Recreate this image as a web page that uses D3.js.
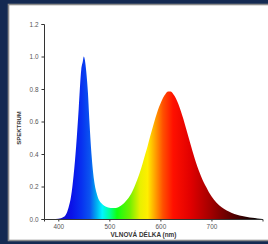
<!DOCTYPE html>
<html>
<head>
<meta charset="utf-8">
<script src="https://cdn.jsdelivr.net/npm/d3@7"></script>
<style>
  body { margin: 0; background: #142a52; }
  svg { display: block; }
</style>
</head>
<body>
<svg width="268" height="244"></svg>
<script>
// spectrum (nm -> relative intensity)
const wavelengths = [372, 390, 400, 405, 410, 415, 420, 425, 430, 435, 440, 445, 448, 450, 452, 455, 458, 461, 465, 470, 475, 480, 485, 490, 495, 500, 505, 510, 515, 520, 525, 530, 535, 540, 545, 550, 555, 560, 565, 570, 575, 580, 585, 590, 595, 600, 605, 610, 615, 620, 625, 630, 635, 640, 645, 650, 655, 660, 665, 670, 675, 680, 685, 690, 695, 700, 705, 710, 720, 730, 740, 750, 760, 770, 780, 790, 800];
const intensity   = [0, 0, 0.002, 0.005, 0.012, 0.028, 0.07, 0.14, 0.27, 0.45, 0.68, 0.92, 0.97, 1.0, 0.98, 0.9, 0.78, 0.6, 0.4, 0.24, 0.16, 0.115, 0.095, 0.082, 0.074, 0.069, 0.067, 0.067, 0.07, 0.077, 0.088, 0.102, 0.12, 0.142, 0.17, 0.205, 0.245, 0.29, 0.34, 0.395, 0.45, 0.51, 0.565, 0.62, 0.67, 0.71, 0.745, 0.77, 0.785, 0.785, 0.77, 0.745, 0.71, 0.665, 0.615, 0.56, 0.505, 0.45, 0.395, 0.345, 0.3, 0.26, 0.225, 0.195, 0.165, 0.14, 0.118, 0.1, 0.072, 0.052, 0.037, 0.026, 0.018, 0.012, 0.007, 0.003, 0];

// colour of the fill along the wavelength axis
const colorNm   = [400, 425, 445, 462, 474, 486, 500, 515, 540, 560, 575, 590, 605, 625, 660, 700, 740, 770, 795];
const colorHex  = ['#1a10c0', '#0a10e8', '#0830f0', '#0a55f0', '#00a8f0', '#00f5ff', '#00ffa0', '#10ff10', '#70f000', '#e8f000', '#ffee00', '#ffa000', '#ff5000', '#ff1000', '#e00000', '#a00000', '#5a0000', '#250000', '#000000'];

const yTicks = [0, 0.2, 0.4, 0.6, 0.8, 1.0, 1.2];
const xTicks = [400, 500, 600, 700];

const svg = d3.select('svg');

// panel
svg.append('rect')
  .attr('x', 8.5).attr('y', 4.5)
  .attr('width', 262).attr('height', 236)
  .attr('fill', '#fff')
  .attr('stroke', '#8a8a8a')
  .attr('stroke-width', 1.6);

const x = d3.scaleLinear().domain([372, 800]).range([44, 262.5]);
const y = d3.scaleLinear().domain([0, 1.2]).range([219, 24]);

const grad = svg.append('defs').append('linearGradient')
  .attr('id', 'spec')
  .attr('gradientUnits', 'userSpaceOnUse')
  .attr('x1', x(372)).attr('x2', x(800))
  .attr('y1', 0).attr('y2', 0);

grad.selectAll('stop').data(colorNm)
  .join('stop')
  .attr('offset', d => (x(d) - x(372)) / (x(800) - x(372)))
  .attr('stop-color', (d, i) => colorHex[i]);

const pts = wavelengths.map((w, i) => [w, intensity[i]]);

const area = d3.area()
  .x(d => x(d[0]))
  .y0(y(0))
  .y1(d => y(d[1]))
  .curve(d3.curveMonotoneX);

svg.append('path')
  .datum(pts)
  .attr('d', area)
  .attr('fill', 'url(#spec)');

// axes
const yAxis = svg.append('g')
  .attr('transform', `translate(${x(372)},0)`)
  .call(d3.axisLeft(y).tickValues(yTicks).tickFormat(d3.format('.1f')).tickSize(2.5).tickPadding(3));

const xAxis = svg.append('g')
  .attr('transform', `translate(0,${y(0)})`)
  .call(d3.axisBottom(x).tickValues(xTicks).tickSize(2.5).tickPadding(2.5));

[yAxis, xAxis].forEach(g => {
  g.select('.domain').attr('stroke', '#333').attr('stroke-width', 1);
  g.selectAll('.tick line').attr('stroke', '#333');
  g.selectAll('.tick text')
    .attr('fill', '#555')
    .style('font-family', 'Liberation Sans, Arial, sans-serif')
    .style('font-size', '6.4px');
});

svg.append('text')
  .attr('transform', 'translate(19,128) rotate(-90)')
  .attr('text-anchor', 'middle')
  .attr('dominant-baseline', 'middle')
  .style('font-family', 'Liberation Sans, Arial, sans-serif')
  .style('font-size', '6px')
  .style('font-weight', 'bold')
  .attr('fill', '#333')
  .text('SPEKTRUM');

svg.append('text')
  .attr('x', 143.5).attr('y', 237)
  .attr('text-anchor', 'middle')
  .style('font-family', 'Liberation Sans, Arial, sans-serif')
  .style('font-size', '6.4px')
  .style('font-weight', 'bold')
  .attr('fill', '#333')
  .text('VLNOVÁ DÉLKA (nm)');
</script>
</body>
</html>
